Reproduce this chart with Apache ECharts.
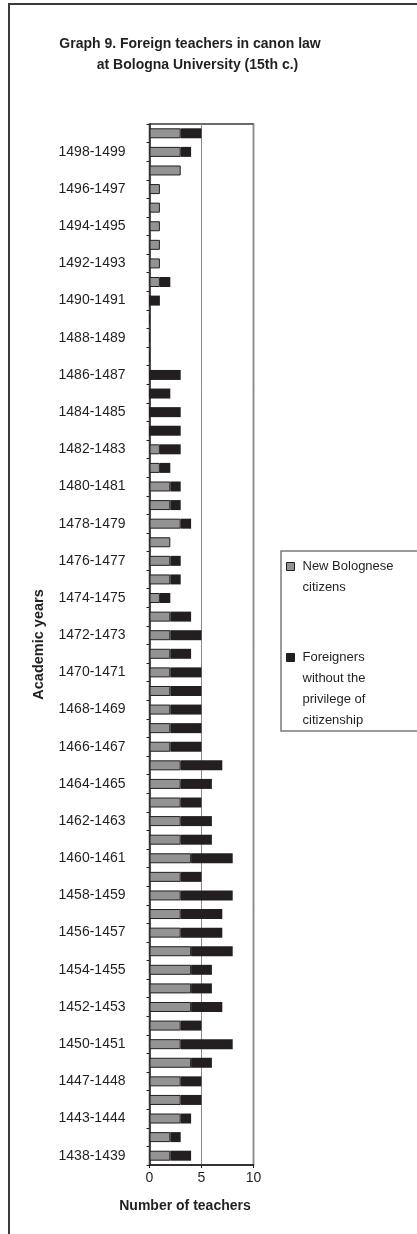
<!DOCTYPE html>
<html>
<head>
<meta charset="utf-8">
<script src="https://cdn.jsdelivr.net/npm/echarts@6/dist/echarts.min.js"></script>
<style>
  html, body { margin: 0; padding: 0; background: #fff; }
  #chart { width: 417px; height: 1234px; }
</style>
</head>
<body>
<div id="chart"></div>
<script>
// Academic years, listed from the top row of the chart downwards
const years = [
  '1499-1500', '1498-1499', '1497-1498', '1496-1497', '1495-1496', '1494-1495',
  '1493-1494', '1492-1493', '1491-1492', '1490-1491', '1489-1490', '1488-1489',
  '1487-1488', '1486-1487', '1485-1486', '1484-1485', '1483-1484', '1482-1483',
  '1481-1482', '1480-1481', '1479-1480', '1478-1479', '1477-1478', '1476-1477',
  '1475-1476', '1474-1475', '1473-1474', '1472-1473', '1471-1472', '1470-1471',
  '1469-1470', '1468-1469', '1467-1468', '1466-1467', '1465-1466', '1464-1465',
  '1463-1464', '1462-1463', '1461-1462', '1460-1461', '1459-1460', '1458-1459',
  '1457-1458', '1456-1457', '1455-1456', '1454-1455', '1453-1454', '1452-1453',
  '1451-1452', '1450-1451', '1448-1449', '1447-1448', '1444-1445', '1443-1444',
  '1439-1440', '1438-1439'
];

// Teachers who became Bolognese citizens
const newCitizens = [
  3, 3, 3, 1, 1, 1, 1, 1, 1, 0, 0, 0,
  0, 0, 0, 0, 0, 1, 1, 2, 2, 3, 2, 2,
  2, 1, 2, 2, 2, 2, 2, 2, 2, 2, 3, 3,
  3, 3, 3, 4, 3, 3, 3, 3, 4, 4, 4, 4,
  3, 3, 4, 3, 3, 3, 2, 2
];

// Foreign teachers without citizenship
const foreigners = [
  2, 1, 0, 0, 0, 0, 0, 0, 1, 1, 0, 0,
  0, 3, 2, 3, 3, 2, 1, 1, 1, 1, 0, 1,
  1, 1, 2, 3, 2, 3, 3, 3, 3, 3, 4, 3,
  2, 3, 3, 4, 2, 5, 4, 4, 4, 2, 2, 3,
  2, 5, 2, 2, 2, 1, 1, 2
];

const xTicks = [0, 5, 10];

const seriesNames = ['New Bolognese citizens', 'Foreigners without the privilege of citizenship'];
const legendLines = [
  ['New Bolognese', 'citizens'],
  ['Foreigners', 'without the', 'privilege of', 'citizenship']
];

const FONT = "'Liberation Sans', Arial, Helvetica, sans-serif";
const INK = '#231f20';
const GREY = '#939393';
const LEGEND_LH = 21;

// One legend block per series: the icon path is padded to the height of the
// wrapped label so the swatch sits beside the first line of text.
function legendBlock(idx, top) {
  const h = legendLines[idx].length * LEGEND_LH;
  const sq = LEGEND_LH / 2 - 4;
  return {
    data: [seriesNames[idx]],
    left: 286,
    top: top,
    orient: 'vertical',
    padding: 0,
    selectedMode: false,
    itemWidth: 11,
    itemHeight: h,
    icon: 'path://M0,0h0M0,' + sq + 'h8v8h-8zM11,' + h + 'h0',
    itemStyle: { borderWidth: 1, borderColor: INK },
    formatter: () => legendLines[idx].join('\n'),
    textStyle: { fontFamily: FONT, fontSize: 13, lineHeight: LEGEND_LH, color: INK }
  };
}

const chart = echarts.init(document.getElementById('chart'), null, { renderer: 'canvas' });

chart.setOption({
  animation: false,
  backgroundColor: '#fff',
  textStyle: { fontFamily: FONT },
  title: [
    {
      text: 'Graph 9. Foreign teachers in canon law',
      left: 190, top: 37, padding: 0, textAlign: 'center',
      textStyle: { fontFamily: FONT, fontSize: 14, fontWeight: 'bold', color: INK }
    },
    {
      text: 'at Bologna University (15th c.)',
      left: 197.5, top: 58.5, padding: 0, textAlign: 'center',
      textStyle: { fontFamily: FONT, fontSize: 14, fontWeight: 'bold', color: INK }
    }
  ],
  graphic: [
    {
      type: 'rect', silent: true, z: -1,
      shape: { x: 9, y: 4, width: 600, height: 1400 },
      style: { fill: null, stroke: '#3a3a3a', lineWidth: 2 }
    },
    {
      type: 'rect', silent: true,
      shape: { x: 281, y: 551, width: 200, height: 180 },
      style: { fill: null, stroke: '#7a7a7a', lineWidth: 1.5 }
    }
  ],
  legend: [legendBlock(0, 555.5), legendBlock(1, 646.5)],
  grid: {
    left: 149.5, right: 163.5, top: 124, bottom: 69,
    show: true, borderColor: '#3a3a3a', borderWidth: 1.5,
    containLabel: false
  },
  xAxis: {
    type: 'value',
    min: xTicks[0],
    max: xTicks[xTicks.length - 1],
    interval: xTicks[1] - xTicks[0],
    name: 'Number of teachers',
    nameLocation: 'middle',
    nameGap: 34,
    nameTextStyle: {
      fontFamily: FONT, fontSize: 14, fontWeight: 'bold', color: INK,
      padding: [0, 33, 0, 0]
    },
    axisLine: { show: true, lineStyle: { color: INK, width: 1.5 } },
    axisTick: { show: true, length: 3, lineStyle: { color: INK } },
    axisLabel: { fontFamily: FONT, fontSize: 14, color: INK, margin: 6 },
    splitLine: { show: true, lineStyle: { color: '#8a8a8a', width: 1 } }
  },
  yAxis: {
    type: 'category',
    inverse: true,
    data: years,
    name: 'Academic years',
    nameLocation: 'middle',
    nameGap: 103,
    nameRotate: 90,
    nameTextStyle: { fontFamily: FONT, fontSize: 14.5, fontWeight: 'bold', color: INK },
    axisLine: { show: true, lineStyle: { color: INK, width: 1.5 } },
    axisTick: { show: true, interval: 0, length: 3, lineStyle: { color: INK } },
    axisLabel: {
      interval: (i) => i % 2 === 1,
      fontFamily: FONT, fontSize: 14, color: INK, margin: 24
    },
    splitLine: { show: false }
  },
  series: [
    {
      name: seriesNames[0],
      type: 'bar',
      stack: 'teachers',
      barWidth: 10,
      data: newCitizens,
      itemStyle: { color: GREY, borderColor: INK, borderWidth: 1 }
    },
    {
      name: seriesNames[1],
      type: 'bar',
      stack: 'teachers',
      barWidth: 10,
      data: foreigners,
      itemStyle: { color: INK }
    }
  ]
});
</script>
</body>
</html>
